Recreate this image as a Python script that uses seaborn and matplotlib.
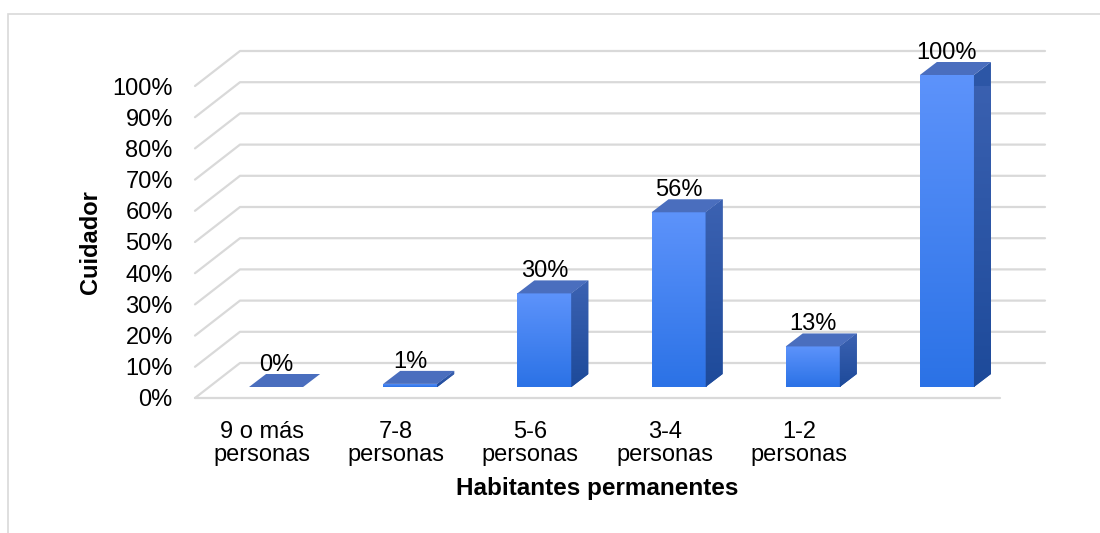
import matplotlib
matplotlib.use("Agg")
import matplotlib.pyplot as plt
from matplotlib.patches import Polygon, Rectangle
from matplotlib.colors import LinearSegmentedColormap
import numpy as np
import pandas as pd
import seaborn as sns

categories = ["9 o más\npersonas", "7-8\npersonas", "5-6\npersonas",
              "3-4\npersonas", "1-2\npersonas", ""]
values = [0, 1, 30, 56, 13, 100]
value_labels = ["0%", "1%", "30%", "56%", "13%", "100%"]
y_ticks = [0, 10, 20, 30, 40, 50, 60, 70, 80, 90, 100]

sns.set_style("white")
plt.rcParams["font.family"] = ["Liberation Sans", "DejaVu Sans"]
plt.rcParams["text.color"] = "black"
plt.rcParams["axes.labelcolor"] = "black"
plt.rcParams["xtick.color"] = "black"
plt.rcParams["ytick.color"] = "black"

W, H = 1100, 533
fig = plt.figure(figsize=(W / 100, H / 100), dpi=100)
# front floor plane of the 3D box, in pixels
left, right, base, top100 = 195, 1000, 398, 86
ax = fig.add_axes([left / W, (H - base) / H, (right - left) / W, (base - top100) / H])

df = pd.DataFrame({"cat": categories, "val": values})
sns.barplot(data=df, x="cat", y="val", ax=ax, color="#3C7EF0", width=0.403,
            saturation=1, edgecolor="none")
ax.set_xlim(-0.5, 5.5)
ax.set_ylim(0, 100)
fig.canvas.draw()

p0 = ax.transData.transform((0, 0))
p1 = ax.transData.transform((1, 1))
sx, sy = p1[0] - p0[0], p1[1] - p0[1]

grid_c = "#D9D9D9"
wall_dx, wall_dy = 45 / sx, 35 / sy
for v in y_ticks:
    ax.plot([-0.5, -0.5 + wall_dx, 5.5 + wall_dx], [v, v + wall_dy, v + wall_dy],
            color=grid_c, lw=1.6, clip_on=False, zorder=0)
ax.plot([-0.5, 5.5], [0, 0], color=grid_c, lw=1.6, clip_on=False, zorder=0)

# depth offsets for bars
ox, oy = 14 / sx, 11 / sy
ddx, ddy = 17 / sx, 13 / sy

front_cmap = LinearSegmentedColormap.from_list("front", ["#2B72E6", "#5D93FB"])
side_cmap = LinearSegmentedColormap.from_list("side", ["#1D4A9A", "#3C62B2"])
grad = np.linspace(0, 1, 256).reshape(-1, 1)

for patch, v, lab in zip(ax.patches, values, value_labels):
    x0 = patch.get_x() + ox
    w = patch.get_width()
    x1 = x0 + w
    patch.set_x(x0)
    patch.set_y(oy)
    patch.set_clip_on(False)
    t = oy + v
    if v > 0:
        im = ax.imshow(grad, cmap=front_cmap, origin="lower", aspect="auto",
                       extent=[x0, x1, oy, t], zorder=2)
        im.set_clip_path(patch)
        side = Polygon([(x1, oy), (x1, t), (x1 + ddx, t + ddy), (x1 + ddx, oy + ddy)],
                       closed=True, facecolor="#2C56A6", edgecolor="none",
                       zorder=2, clip_on=False)
        ax.add_patch(side)
        im2 = ax.imshow(grad, cmap=side_cmap, origin="lower", aspect="auto",
                        extent=[x1, x1 + ddx, oy, t + ddy], zorder=2.1)
        im2.set_clip_path(side)
        im2.set_clip_box(None)
    topface = Polygon([(x0, t), (x1, t), (x1 + ddx, t + ddy), (x0 + ddx, t + ddy)],
                      closed=True, facecolor="#4A6EBE", edgecolor="none",
                      zorder=3, clip_on=False)
    ax.add_patch(topface)
    ax.annotate(lab, xy=(x0 + w / 2, v), xytext=(0, 27), textcoords="offset pixels",
                ha="center", va="baseline", fontsize=17, color="black",
                annotation_clip=False)

ax.set_xlim(-0.5, 5.5)
ax.set_ylim(0, 100)
sns.despine(ax=ax, left=True, bottom=True)
ax.set_yticks(y_ticks)
ax.set_yticklabels([f"{v}%" for v in y_ticks])
ax.tick_params(axis="y", length=0, pad=16, labelsize=17)
ax.tick_params(axis="x", length=0, pad=16.5, labelsize=17)
for t in ax.get_xticklabels():
    t.set_linespacing(1.05)

ax.set_ylabel("Cuidador", fontsize=17, fontweight="bold")
ax.yaxis.set_label_coords(-0.115, 0.5)
ax.set_xlabel("Habitantes permanentes", fontsize=17.5, fontweight="bold")
ax.xaxis.set_label_coords(0.5, -0.254)

fig.patches.append(Rectangle((8 / W, -0.1), 1.2, (H - 14) / H + 0.1,
                             transform=fig.transFigure, fill=False,
                             edgecolor="#D9D9D9", lw=1.2))

fig.savefig("out.png", dpi=100)
